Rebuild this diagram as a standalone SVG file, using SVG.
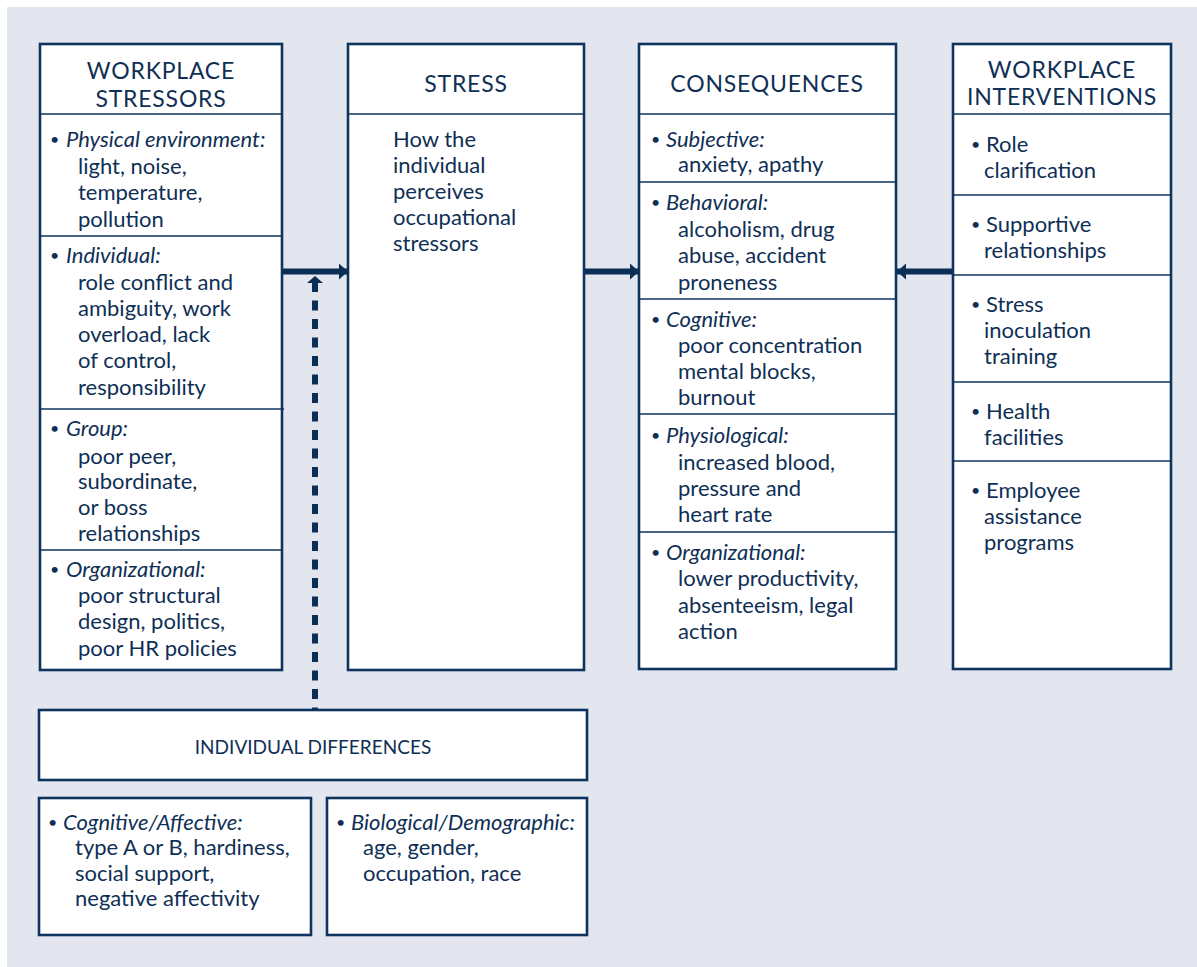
<svg xmlns="http://www.w3.org/2000/svg" width="1197" height="967" viewBox="0 0 1197 967">
<defs>
<style>
.box{fill:#ffffff;stroke:#0d335e;stroke-width:2.6}
.div{stroke:#0d335e;stroke-width:1.6}
text{font-family:Lato,"Open Sans","Liberation Sans",sans-serif;fill:#0f2f55;font-size:22px}
.h{text-anchor:middle;font-size:23px;letter-spacing:0.8px}
.hs{text-anchor:middle;font-size:19px}
.i{font-style:italic}
.b{font-size:16px}
.conn{stroke:#0b2e57;stroke-width:6;fill:none}
.dash{stroke:#0b2e57;stroke-width:6;fill:none;stroke-dasharray:10 8.5}
</style>
<marker id="ah" markerUnits="userSpaceOnUse" markerWidth="10" markerHeight="18" refX="9" refY="8" orient="auto">
<path d="M0,0 L9,8 L0,16 Z" fill="#0b2e57"/>
</marker>
</defs>
<rect x="7" y="7" width="1190" height="960" fill="#e3e6ef"/>

<g id="workplace-stressors">
<rect class="box" x="40" y="44" width="242" height="626"/>
<line class="div" x1="40" y1="114" x2="282" y2="114"/>
<line class="div" x1="40" y1="236" x2="282" y2="236"/>
<line class="div" x1="40" y1="409" x2="284" y2="409"/>
<line class="div" x1="40" y1="550" x2="282" y2="550"/>
<text class="h" x="161" y="79">WORKPLACE</text>
<text class="h" x="161" y="107">STRESSORS</text>
<text class="b" x="50" y="145">•</text><text class="i" x="66" y="147">Physical environment:</text>
<text x="78" y="174">light, noise,</text>
<text x="78" y="200">temperature,</text>
<text x="78" y="227">pollution</text>
<text class="b" x="50" y="261">•</text><text class="i" x="66" y="263">Individual:</text>
<text x="78" y="290">role conflict and</text>
<text x="78" y="316">ambiguity, work</text>
<text x="78" y="342">overload, lack</text>
<text x="78" y="368">of control,</text>
<text x="78" y="395">responsibility</text>
<text class="b" x="50" y="434">•</text><text class="i" x="66" y="436">Group:</text>
<text x="78" y="464">poor peer,</text>
<text x="78" y="489">subordinate,</text>
<text x="78" y="515">or boss</text>
<text x="78" y="541">relationships</text>
<text class="b" x="50" y="575">•</text><text class="i" x="66" y="577">Organizational:</text>
<text x="78" y="603">poor structural</text>
<text x="78" y="629">design, politics,</text>
<text x="78" y="656">poor HR policies</text>
</g>

<g id="stress">
<rect class="box" x="348" y="44" width="236" height="626"/>
<line class="div" x1="348" y1="114" x2="584" y2="114"/>
<text class="h" x="466" y="92">STRESS</text>
<text x="393" y="147">How the</text>
<text x="393" y="173">individual</text>
<text x="393" y="199">perceives</text>
<text x="393" y="225">occupational</text>
<text x="393" y="251">stressors</text>
</g>

<g id="consequences">
<rect class="box" x="639" y="44" width="257" height="625"/>
<line class="div" x1="639" y1="114" x2="896" y2="114"/>
<line class="div" x1="639" y1="182" x2="896" y2="182"/>
<line class="div" x1="639" y1="299" x2="896" y2="299"/>
<line class="div" x1="639" y1="414" x2="896" y2="414"/>
<line class="div" x1="639" y1="532" x2="896" y2="532"/>
<text class="h" x="767" y="92">CONSEQUENCES</text>
<text class="b" x="651" y="145">•</text><text class="i" x="666" y="147">Subjective:</text>
<text x="678" y="172">anxiety, apathy</text>
<text class="b" x="651" y="208">•</text><text class="i" x="666" y="210">Behavioral:</text>
<text x="678" y="237">alcoholism, drug</text>
<text x="678" y="263">abuse, accident</text>
<text x="678" y="290">proneness</text>
<text class="b" x="651" y="325">•</text><text class="i" x="666" y="327">Cognitive:</text>
<text x="678" y="353">poor concentration</text>
<text x="678" y="379">mental blocks,</text>
<text x="678" y="405">burnout</text>
<text class="b" x="651" y="441">•</text><text class="i" x="666" y="443">Physiological:</text>
<text x="678" y="470">increased blood,</text>
<text x="678" y="496">pressure and</text>
<text x="678" y="522">heart rate</text>
<text class="b" x="651" y="558">•</text><text class="i" x="666" y="560">Organizational:</text>
<text x="678" y="586">lower productivity,</text>
<text x="678" y="613">absenteeism, legal</text>
<text x="678" y="639">action</text>
</g>

<g id="workplace-interventions">
<rect class="box" x="953" y="44" width="218" height="625"/>
<line class="div" x1="953" y1="114" x2="1171" y2="114"/>
<line class="div" x1="953" y1="195" x2="1171" y2="195"/>
<line class="div" x1="953" y1="275" x2="1171" y2="275"/>
<line class="div" x1="953" y1="382" x2="1171" y2="382"/>
<line class="div" x1="953" y1="461" x2="1171" y2="461"/>
<text class="h" x="1062" y="78">WORKPLACE</text>
<text class="h" x="1062" y="105">INTERVENTIONS</text>
<text class="b" x="971" y="150">•</text><text x="986" y="152">Role</text>
<text x="984" y="178">clarification</text>
<text class="b" x="971" y="230">•</text><text x="986" y="232">Supportive</text>
<text x="984" y="258">relationships</text>
<text class="b" x="971" y="310">•</text><text x="986" y="312">Stress</text>
<text x="984" y="338">inoculation</text>
<text x="984" y="364">training</text>
<text class="b" x="971" y="417">•</text><text x="986" y="419">Health</text>
<text x="984" y="445">facilities</text>
<text class="b" x="971" y="496">•</text><text x="986" y="498">Employee</text>
<text x="984" y="524">assistance</text>
<text x="984" y="550">programs</text>
</g>

<g id="individual-differences">
<rect class="box" x="39" y="710" width="548" height="70"/>
<text class="hs" x="313" y="754">INDIVIDUAL DIFFERENCES</text>
</g>

<g id="cognitive-affective">
<rect class="box" x="39" y="798" width="272" height="137"/>
<text class="b" x="48" y="828">•</text><text class="i" x="63" y="830">Cognitive/Affective:</text>
<text x="75" y="855">type A or B, hardiness,</text>
<text x="75" y="881">social support,</text>
<text x="75" y="906">negative affectivity</text>
</g>

<g id="biological-demographic">
<rect class="box" x="327" y="798" width="260" height="137"/>
<text class="b" x="336" y="828">•</text><text class="i" x="351" y="830">Biological/Demographic:</text>
<text x="363" y="855">age, gender,</text>
<text x="363" y="881">occupation, race</text>
</g>

<g id="connectors">
<line class="conn" x1="283" y1="271.5" x2="348" y2="271.5" marker-end="url(#ah)"/>
<line class="conn" x1="585" y1="271.5" x2="639" y2="271.5" marker-end="url(#ah)"/>
<line class="conn" x1="952" y1="271.5" x2="897" y2="271.5" marker-end="url(#ah)"/>
<line class="dash" x1="315" y1="282" x2="315" y2="710"/>
<path d="M307,283 L315,276 L323,283 Z" fill="#0b2e57"/>
</g>
</svg>
